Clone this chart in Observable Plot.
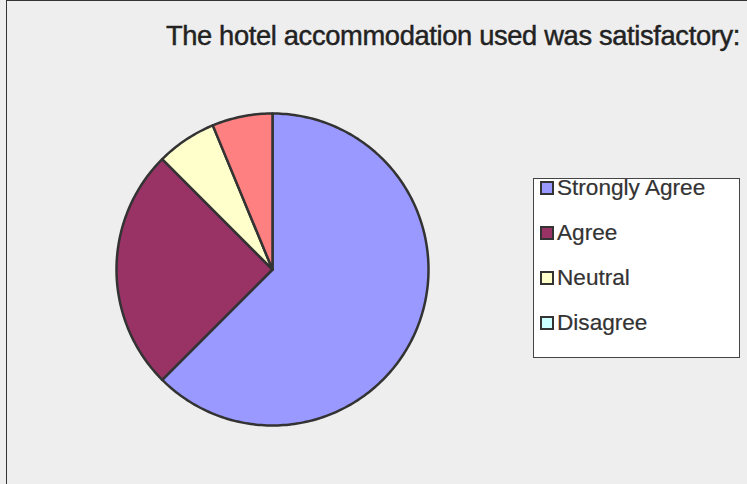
<!DOCTYPE html>
<html>
<head>
<meta charset="utf-8">
<script src="https://cdn.jsdelivr.net/npm/d3@7"></script>
<script src="https://cdn.jsdelivr.net/npm/@observablehq/plot@0.6"></script>
<style>
  html, body { margin: 0; padding: 0; background: #eeeeee; }
  #wrap { position: relative; width: 747px; height: 484px; overflow: hidden; background: #eeeeee; font-family: "Liberation Sans", Arial, sans-serif; }
  #frame { position: absolute; left: 6px; top: 0; width: 760px; height: 500px; border-left: 1.5px solid #333; border-top: 1.5px solid #333; box-sizing: border-box; }
  #title { position: absolute; right: 7px; top: 20px; font-size: 27.3px; color: #222; white-space: nowrap; letter-spacing: -0.35px; -webkit-text-stroke: 0.45px #222; }
  #legend { position: absolute; left: 533px; top: 178px; width: 207px; height: 180px; background: #fff; border: 1px solid #444; box-sizing: border-box; }
  .item { position: absolute; left: 6px; height: 24px; display: flex; align-items: center; font-size: 22.6px; color: #333; -webkit-text-stroke: 0.2px #333; }
  .sw { width: 10px; height: 10px; border: 2px solid #333; margin-right: 3px; }
  #chart { position: absolute; left: 0; top: 0; }
</style>
</head>
<body>
<div id="wrap">
  <div id="frame"></div>
  <div id="title"></div>
  <div id="chart"></div>
  <div id="legend"></div>
</div>
<script>
const titleText = "The hotel accommodation used was satisfactory:";
const categories = ["Strongly Agree", "Agree", "Neutral", "Disagree", "Strongly Disagree"];
const counts = [10, 4, 1, 0, 1];
const colors = ["#9999FF", "#993366", "#FFFFCC", "#CCFFFF", "#FF8080"];
const legendShown = 4;

document.getElementById("title").textContent = titleText;

// build slice polygons from the values (clockwise from 12 o'clock)
const total = d3.sum(counts);
const pts = [];
let acc = 0;
categories.forEach((c, i) => {
  const a0 = acc / total * 2 * Math.PI;
  acc += counts[i];
  const a1 = acc / total * 2 * Math.PI;
  if (counts[i] === 0) return;
  pts.push({cat: c, x: 0, y: 0});
  const n = Math.max(2, Math.ceil((a1 - a0) / (Math.PI / 180)));
  for (let k = 0; k <= n; k++) {
    const a = a0 + (a1 - a0) * k / n;
    pts.push({cat: c, x: Math.sin(a), y: Math.cos(a)});
  }
});

const chart = Plot.plot({
  width: 747,
  height: 484,
  marginLeft: 116,
  marginRight: 319,
  marginTop: 113,
  marginBottom: 59,
  x: {domain: [-1, 1], axis: null},
  y: {domain: [-1, 1], axis: null},
  color: {domain: categories, range: colors},
  style: {background: "transparent", overflow: "visible"},
  marks: [
    Plot.line(pts, {x: "x", y: "y", z: "cat", fill: "cat", stroke: "#333", strokeWidth: 2.5, curve: "linear-closed", strokeLinejoin: "round"})
  ]
});
document.getElementById("chart").appendChild(chart);

const legend = document.getElementById("legend");
categories.slice(0, legendShown).forEach((c, i) => {
  const it = document.createElement("div");
  it.className = "item";
  it.style.top = (-3 + 45 * i) + "px";
  const sw = document.createElement("div");
  sw.className = "sw";
  sw.style.background = colors[i];
  const tx = document.createElement("span");
  tx.textContent = c;
  it.appendChild(sw);
  it.appendChild(tx);
  legend.appendChild(it);
});
</script>
</body>
</html>
